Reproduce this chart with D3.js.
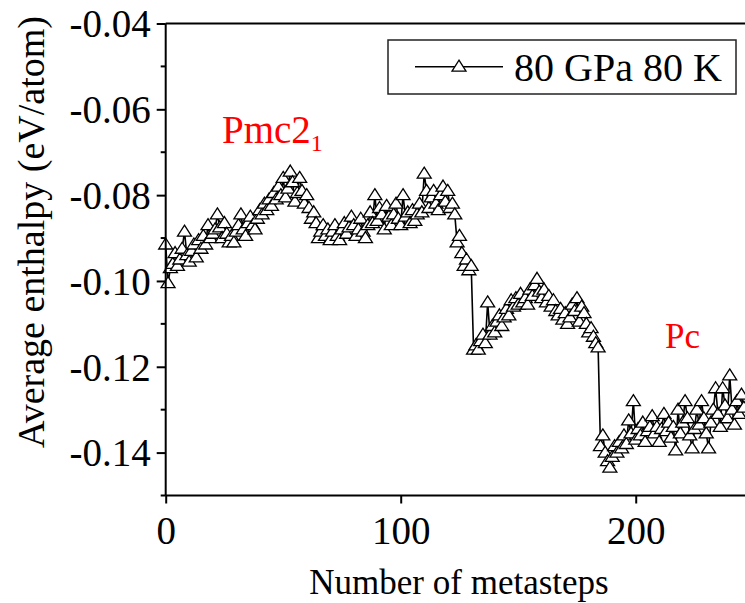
<!DOCTYPE html>
<html><head><meta charset="utf-8">
<script src="https://cdn.jsdelivr.net/npm/d3@7"></script>
<style>
html,body{margin:0;padding:0;background:#fff;}
svg{display:block;}
</style></head>
<body>
<svg id="chart" width="745" height="603"></svg>
<script>
// Average enthalpy per metastep (eV/atom), metastep index = array position
const enthalpy = [
-0.0915,-0.1005,-0.0970,-0.0960,-0.0935,-0.0965,-0.0950,-0.0925,-0.0885,-0.0940,
-0.0955,-0.0930,-0.0915,-0.0945,-0.0905,-0.0925,-0.0895,-0.0915,-0.0870,-0.0900,
-0.0890,-0.0880,-0.0845,-0.0875,-0.0900,-0.0865,-0.0890,-0.0910,-0.0895,-0.0910,
-0.0885,-0.0870,-0.0845,-0.0880,-0.0895,-0.0865,-0.0850,-0.0870,-0.0880,-0.0855,
-0.0835,-0.0845,-0.0820,-0.0835,-0.0810,-0.0825,-0.0795,-0.0810,-0.0780,-0.0800,
-0.0760,-0.0805,-0.0785,-0.0745,-0.0770,-0.0815,-0.0795,-0.0760,-0.0790,-0.0820,
-0.0800,-0.0830,-0.0855,-0.0840,-0.0865,-0.0900,-0.0885,-0.0870,-0.0895,-0.0880,
-0.0905,-0.0885,-0.0870,-0.0895,-0.0905,-0.0880,-0.0865,-0.0890,-0.0875,-0.0850,
-0.0870,-0.0895,-0.0880,-0.0855,-0.0885,-0.0900,-0.0870,-0.0840,-0.0865,-0.0800,
-0.0860,-0.0830,-0.0845,-0.0880,-0.0825,-0.0850,-0.0870,-0.0845,-0.0820,-0.0855,
-0.0870,-0.0800,-0.0850,-0.0840,-0.0865,-0.0835,-0.0860,-0.0845,-0.0820,-0.0840,
-0.0750,-0.0790,-0.0830,-0.0805,-0.0790,-0.0820,-0.0835,-0.0800,-0.0780,-0.0815,
-0.0790,-0.0830,-0.0820,-0.0845,-0.0910,-0.0895,-0.0935,-0.0965,-0.0950,-0.0975,
-0.0965,-0.1160,-0.1150,-0.1160,-0.1140,-0.1125,-0.1145,-0.1050,-0.1125,-0.1105,
-0.1120,-0.1095,-0.1080,-0.1105,-0.1085,-0.1065,-0.1080,-0.1045,-0.1060,-0.1040,
-0.1055,-0.1030,-0.1050,-0.1040,-0.1055,-0.1020,-0.1035,-0.1010,-0.0995,-0.1025,
-0.1040,-0.1020,-0.1050,-0.1035,-0.1060,-0.1045,-0.1070,-0.1080,-0.1065,-0.1090,
-0.1075,-0.1100,-0.1085,-0.1055,-0.1070,-0.1040,-0.1095,-0.1060,-0.1075,-0.1100,
-0.1120,-0.1110,-0.1130,-0.1145,-0.1155,-0.1385,-0.1360,-0.1400,-0.1420,-0.1435,
-0.1410,-0.1385,-0.1400,-0.1375,-0.1390,-0.1360,-0.1380,-0.1325,-0.1355,-0.1280,
-0.1370,-0.1345,-0.1360,-0.1330,-0.1375,-0.1350,-0.1340,-0.1315,-0.1355,-0.1340,
-0.1375,-0.1345,-0.1310,-0.1350,-0.1330,-0.1365,-0.1340,-0.1395,-0.1300,-0.1355,
-0.1330,-0.1280,-0.1320,-0.1360,-0.1390,-0.1345,-0.1300,-0.1335,-0.1280,-0.1320,
-0.1355,-0.1390,-0.1330,-0.1300,-0.1250,-0.1310,-0.1340,-0.1250,-0.1290,-0.1320,
-0.1220,-0.1300,-0.1335,-0.1280,-0.1310,-0.1265,-0.1295
];
const xTicks = [0, 100, 200];
const yTicks = [-0.04, -0.06, -0.08, -0.10, -0.12, -0.14];
const yMinorTicks = [-0.05, -0.07, -0.09, -0.11, -0.13, -0.15];
const seriesName = "80 GPa 80 K";
const xTitle = "Number of metasteps";
const yTitle = "Average enthalpy (eV/atom)";

const data = enthalpy.map((v, i) => ({x: i, y: v}));
const svg = d3.select("#chart");
const SERIF = '"Liberation Serif", Tinos, "Times New Roman", Times, "DejaVu Serif", serif';

const x = d3.scaleLinear().domain([0, 246.5]).range([165.7, 745]);
const y = d3.scaleLinear().domain([-0.15, -0.04]).range([495.5, 23.5]);

const tri = "M0,-6.5L7,4.5L-7,4.5Z";

// line
svg.append("path")
  .datum(data)
  .attr("fill", "none")
  .attr("stroke", "#000")
  .attr("stroke-width", 1.6)
  .attr("d", d3.line().x(d => x(d.x)).y(d => y(d.y)));

// markers
svg.append("g").selectAll("path")
  .data(data)
  .join("path")
  .attr("d", tri)
  .attr("transform", d => `translate(${x(d.x)},${y(d.y)})`)
  .attr("fill", "#fff")
  .attr("stroke", "#000")
  .attr("stroke-width", 1.3);

// axes
const fmt = d3.format(".2f");
const yAxis = svg.append("g").attr("transform", `translate(${x(0)},0)`)
  .call(d3.axisLeft(y).tickValues(yTicks).tickSize(9).tickFormat(d => fmt(d).replace("\u2212", "-")));
yAxis.attr("font-family", SERIF);
yAxis.select(".domain").attr("stroke-width", 2).attr("d", `M0,${y(-0.04)}V${y(-0.15)}`);
yAxis.selectAll(".tick line").attr("stroke-width", 2);
yAxis.selectAll(".tick text")
  .attr("font-size", 39)
  .attr("fill", "#000")
  .attr("x", -15)
  .attr("dy", "0.34em");

svg.append("g").selectAll("line")
  .data(yMinorTicks)
  .join("line")
  .attr("x1", x(0) - 5).attr("x2", x(0))
  .attr("y1", d => y(d)).attr("y2", d => y(d))
  .attr("stroke", "#000").attr("stroke-width", 2);

const xAxis = svg.append("g").attr("transform", `translate(0,${y(-0.15)})`)
  .call(d3.axisBottom(x).tickValues(xTicks).tickSize(8).tickFormat(d3.format("d")));
xAxis.attr("font-family", SERIF);
xAxis.select(".domain").attr("stroke-width", 2.2).attr("d", `M${x(0)},0H745`);
xAxis.selectAll(".tick line").attr("stroke-width", 2);
xAxis.selectAll(".tick text")
  .attr("font-size", 39)
  .attr("fill", "#000")
  .attr("y", 48)
  .attr("dy", 0);

// top frame
svg.append("line")
  .attr("x1", x(0)).attr("x2", 745)
  .attr("y1", y(-0.04)).attr("y2", y(-0.04))
  .attr("stroke", "#000").attr("stroke-width", 2.2);

// axis titles
svg.append("text")
  .attr("x", 459).attr("y", 594)
  .attr("text-anchor", "middle")
  .attr("font-family", SERIF)
  .attr("font-size", 35)
  .text(xTitle);

svg.append("text")
  .attr("transform", "translate(44,232) rotate(-90)")
  .attr("text-anchor", "middle")
  .attr("font-family", SERIF)
  .attr("font-size", 38)
  .text(yTitle);

// legend
const lg = svg.append("g");
lg.append("rect")
  .attr("x", 388).attr("y", 40).attr("width", 348).attr("height", 54)
  .attr("fill", "#fff").attr("stroke", "#222").attr("stroke-width", 1.5);
lg.append("line")
  .attr("x1", 415).attr("x2", 503).attr("y1", 66.7).attr("y2", 66.7)
  .attr("stroke", "#000").attr("stroke-width", 1.6);
lg.append("path")
  .attr("d", tri)
  .attr("transform", "translate(459,66.7)")
  .attr("fill", "#fff").attr("stroke", "#000").attr("stroke-width", 1.3);
lg.append("text")
  .attr("x", 514).attr("y", 81)
  .attr("font-family", SERIF)
  .attr("font-size", 40)
  .text(seriesName);

// phase annotations
const pmc = svg.append("text")
  .attr("x", 222).attr("y", 143)
  .attr("font-family", SERIF)
  .attr("font-size", 39)
  .attr("fill", "#ff0000");
pmc.append("tspan").text("Pmc2");
pmc.append("tspan").attr("font-size", 24).attr("dy", 8).text("1");

svg.append("text")
  .attr("x", 665).attr("y", 348)
  .attr("font-family", SERIF)
  .attr("font-size", 35)
  .attr("fill", "#ff0000")
  .text("Pc");
</script>
</body></html>
